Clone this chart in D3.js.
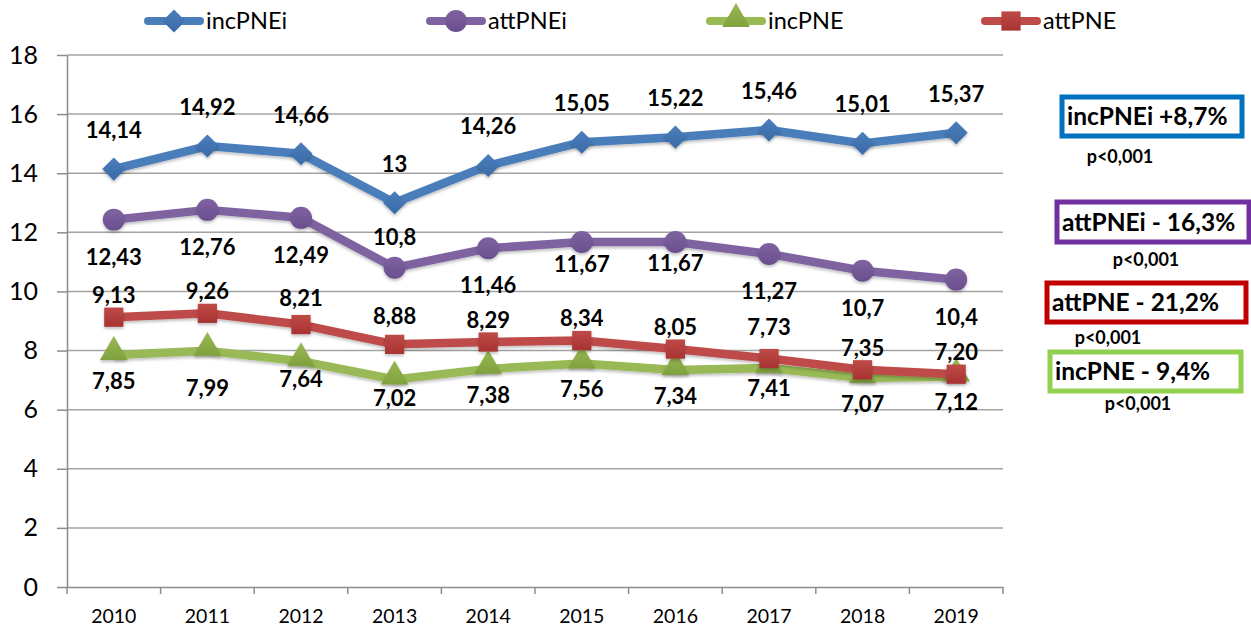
<!DOCTYPE html>
<html>
<head>
<meta charset="utf-8">
<script src="https://cdn.jsdelivr.net/npm/d3@7/dist/d3.min.js"></script>
<style>
  body { margin: 0; background: #fff; }
  svg { font-family: Lato, "Open Sans", sans-serif; }
  .grid line { stroke: #a3a3a3; stroke-width: 1.5; }
  .axis path, .axis line { stroke: #8c8c8c; stroke-width: 1.5; }
  .axis text { fill: #000; font-family: Lato, "Open Sans", sans-serif; }
  .lbl { font-weight: bold; font-size: 22px; fill: #000; text-anchor: middle; }
</style>
</head>
<body>
<div id="chart"></div>
<script>
var years = ["2010", "2011", "2012", "2013", "2014", "2015", "2016", "2017", "2018", "2019"];
var yTicks = [0, 2, 4, 6, 8, 10, 12, 14, 16, 18];

var seriesNames = ["incPNEi", "attPNEi", "incPNE", "attPNE"];

var incPNEi = [14.14, 14.92, 14.66, 13, 14.26, 15.05, 15.22, 15.46, 15.01, 15.37];
var attPNEi = [12.43, 12.76, 12.49, 10.8, 11.46, 11.67, 11.67, 11.27, 10.7, 10.4];
var incPNE = [7.85, 7.99, 7.64, 7.02, 7.38, 7.56, 7.34, 7.41, 7.07, 7.12];
var attPNE = [9.13, 9.26, 8.88, 8.21, 8.29, 8.34, 8.05, 7.73, 7.35, 7.20];

// data label texts as printed on the chart
var incPNEiLabels = ["14,14", "14,92", "14,66", "13", "14,26", "15,05", "15,22", "15,46", "15,01", "15,37"];
var attPNEiLabels = ["12,43", "12,76", "12,49", "10,8", "11,46", "11,67", "11,67", "11,27", "10,7", "10,4"];
var incPNELabels = ["7,85", "7,99", "7,64", "7,02", "7,38", "7,56", "7,34", "7,41", "7,07", "7,12"];
var attPNELabels = ["9,13", "9,26", "8,21", "8,88", "8,29", "8,34", "8,05", "7,73", "7,35", "7,20"];

var changeTexts = ["incPNEi +8,7%", "attPNEi - 16,3%", "attPNE - 21,2%", "incPNE - 9,4%"];
var pTexts = ["p<0,001", "p<0,001", "p<0,001", "p<0,001"];

var W = 1251, H = 630;
var plotLeft = 67, plotRight = 1003, plotTop = 55, plotBottom = 587;

var series = [
  { name: "incPNEi", values: incPNEi, labels: incPNEiLabels, color: "#4a7ebb", dark: "#3a6aa8", shape: "diamond", dy: -39 },
  { name: "attPNEi", values: attPNEi, labels: attPNEiLabels, color: "#7f63a1", dark: "#6a4e8e", shape: "circle", dy: 37 },
  { name: "incPNE", values: incPNE, labels: incPNELabels, color: "#98b954", dark: "#7fa13e", shape: "triangle", dy: 26 },
  { name: "attPNE", values: attPNE, labels: attPNELabels, color: "#be4b48", dark: "#a8322f", shape: "square", dy: -22 }
];

// hand-placed labels in the original
var labelShift = { "attPNEi-2013": -31, "attPNEi-2015": 22, "attPNEi-2016": 21,
  "attPNE-2012": -26, "attPNE-2013": -28, "attPNE-2017": -31,
  "incPNE-2011": 37, "incPNE-2012": 18, "incPNE-2013": 19, "incPNE-2017": 20 };

var x = d3.scaleBand().domain(years).range([plotLeft, plotRight]);
var y = d3.scaleLinear().domain([0, 18]).range([plotBottom, plotTop]);
var cx = function(d) { return x(d) + x.bandwidth() / 2; };

var svg = d3.select("#chart").append("svg")
  .attr("width", W)
  .attr("height", H);

var defs = svg.append("defs");
var f = defs.append("filter").attr("id", "shadow").attr("x", "-20%").attr("y", "-20%").attr("width", "140%").attr("height", "160%");
f.append("feDropShadow").attr("dx", 0).attr("dy", 2).attr("stdDeviation", 1.5).attr("flood-color", "#000").attr("flood-opacity", 0.25);

series.forEach(function(s) {
  var g = defs.append("linearGradient").attr("id", "grad-" + s.name)
    .attr("x1", 0).attr("y1", 0).attr("x2", 0).attr("y2", 1);
  g.append("stop").attr("offset", "0%").attr("stop-color", s.color);
  g.append("stop").attr("offset", "100%").attr("stop-color", s.dark);
});

// gridlines
svg.append("g")
  .attr("class", "grid")
  .selectAll("line")
  .data(yTicks.filter(function(t) { return t > 0; }))
  .enter().append("line")
  .attr("x1", plotLeft).attr("x2", plotRight)
  .attr("y1", function(d) { return y(d); })
  .attr("y2", function(d) { return y(d); });

// y axis
var yAxis = svg.append("g")
  .attr("class", "axis")
  .attr("transform", "translate(" + plotLeft + ",0)")
  .call(d3.axisLeft(y).tickValues(yTicks).tickSize(10).tickSizeOuter(0).tickPadding(19));
yAxis.attr("font-family", null).attr("font-size", null);
yAxis.selectAll("text").style("font-size", "25px");

// x axis: labels at band centers, ticks at band edges
var xAxis = svg.append("g")
  .attr("class", "axis")
  .attr("transform", "translate(0," + plotBottom + ")")
  .call(d3.axisBottom(x).tickSize(0).tickSizeOuter(0).tickPadding(22));
xAxis.attr("font-family", null).attr("font-size", null);
xAxis.selectAll("text").style("font-size", "19.5px");
xAxis.selectAll(".edge")
  .data(years.map(function(d) { return x(d); }).concat([plotRight]))
  .enter().append("line")
  .attr("class", "edge")
  .attr("x1", function(d) { return d; }).attr("x2", function(d) { return d; })
  .attr("y1", 0).attr("y2", 7);

var symbolFor = function(shape) {
  if (shape === "diamond") return d3.symbol().type(d3.symbolDiamond2).size(340)();
  if (shape === "circle") return d3.symbol().type(d3.symbolCircle).size(380)();
  if (shape === "triangle") return d3.symbol().type(d3.symbolTriangle).size(330)();
  return d3.symbol().type(d3.symbolSquare).size(370)();
};

var line = d3.line()
  .x(function(d) { return cx(d.year); })
  .y(function(d) { return y(d.v); });

series.forEach(function(s) {
  var pts = years.map(function(yr, i) { return { year: yr, v: s.values[i], label: s.labels[i] }; });
  var g = svg.append("g").attr("class", "series " + s.name);

  g.append("path")
    .attr("d", line(pts))
    .attr("fill", "none")
    .attr("stroke", s.color)
    .attr("stroke-width", 8.5)
    .attr("stroke-linejoin", "round")
    .attr("filter", "url(#shadow)");

  g.selectAll(".mark")
    .data(pts)
    .enter().append("path")
    .attr("class", "mark")
    .attr("d", symbolFor(s.shape))
    .attr("transform", function(d) {
      var off = s.shape === "triangle" ? -3 : 0;
      return "translate(" + cx(d.year) + "," + (y(d.v) + off) + ")";
    })
    .attr("fill", "url(#grad-" + s.name + ")")
    .attr("filter", "url(#shadow)");
});

// data labels on top
series.forEach(function(s) {
  svg.append("g").selectAll("text")
    .data(years)
    .enter().append("text")
    .attr("class", "lbl")
    .attr("x", function(d) { return cx(d); })
    .attr("y", function(d, i) {
      var k = s.name + "-" + d;
      var dy = labelShift[k] !== undefined ? labelShift[k] : s.dy;
      return y(s.values[i]) + dy;
    })
    .attr("dy", "0.36em")
    .text(function(d, i) { return s.labels[i]; });
});

// legend
var legendX = [144, 426, 706, 981];
var legend = svg.append("g").attr("class", "legend");
series.forEach(function(s, i) {
  var lg = legend.append("g").attr("transform", "translate(" + legendX[i] + ",21)");
  lg.append("line")
    .attr("x1", 4).attr("x2", 56).attr("y1", 0).attr("y2", 0)
    .attr("stroke", s.color).attr("stroke-width", 8).attr("stroke-linecap", "round");
  lg.append("path")
    .attr("d", symbolFor(s.shape))
    .attr("transform", "translate(30," + (s.shape === "triangle" ? -2 : 0) + ")")
    .attr("fill", "url(#grad-" + s.name + ")");
  lg.append("text")
    .attr("x", 62).attr("y", 0).attr("dy", "0.36em")
    .style("font-size", "23.5px")
    .text(seriesNames[i]);
});

// change boxes on the right
var boxColors = ["#0070c0", "#7030a0", "#c00000", "#92d050"];
var boxes = [
  { x: 1062, y: 97, w: 180, h: 39, px: 1120, py: 157 },
  { x: 1057, y: 202, w: 192, h: 40, px: 1146, py: 260 },
  { x: 1047, y: 283, w: 199, h: 39, px: 1108, py: 338 },
  { x: 1050, y: 352, w: 191, h: 39, px: 1138, py: 404 }
];
boxes.forEach(function(b, i) {
  svg.append("rect")
    .attr("x", b.x).attr("y", b.y).attr("width", b.w).attr("height", b.h)
    .attr("fill", "#fff")
    .attr("stroke", boxColors[i])
    .attr("stroke-width", 5);
  svg.append("text")
    .attr("x", b.x + 5).attr("y", b.y + b.h / 2).attr("dy", "0.36em")
    .style("font-size", "24.5px").style("font-weight", "bold")
    .text(changeTexts[i]);
  svg.append("text")
    .attr("x", b.px).attr("y", b.py).attr("dy", "0.36em")
    .attr("text-anchor", "middle")
    .style("font-size", "18px").style("font-weight", "bold")
    .text(pTexts[i]);
});
</script>
</body>
</html>
